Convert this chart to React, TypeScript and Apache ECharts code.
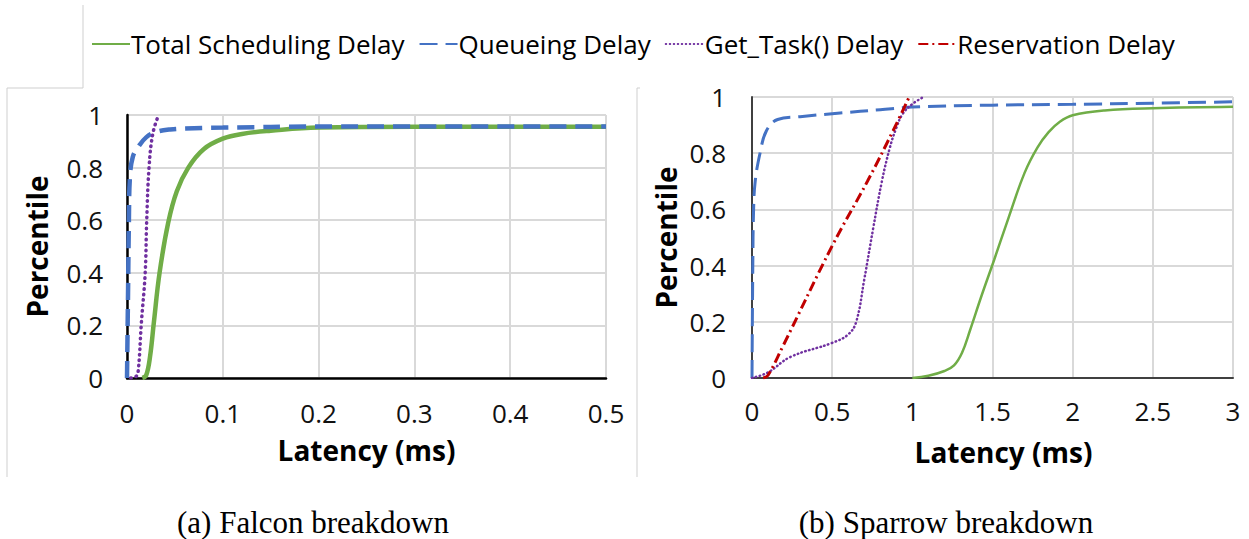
import React, { useEffect, useRef } from "react";
import * as echarts from "echarts";

// ---------- data ----------
const seriesNames = ["Total Scheduling Delay", "Queueing Delay", "Get_Task() Delay", "Reservation Delay"];

const falconXTicks = [0, 0.1, 0.2, 0.3, 0.4, 0.5];
const sparrowXTicks = [0, 0.5, 1, 1.5, 2, 2.5, 3];
const percentileTicks = [0, 0.2, 0.4, 0.6, 0.8, 1];

// Falcon breakdown (latency ms, percentile)
const falconTotal: [number, number][] = [
  [0.016, 0], [0.02, 0.01], [0.024, 0.08], [0.028, 0.21], [0.034, 0.4], [0.043, 0.59],
  [0.052, 0.71], [0.064, 0.8], [0.08, 0.87], [0.1, 0.91], [0.12, 0.928], [0.15, 0.94],
  [0.2, 0.952], [0.3, 0.955], [0.5, 0.955],
];
const falconQueue: [number, number][] = [
  [0, 0], [0.001, 0.3], [0.002, 0.6], [0.003, 0.76], [0.006, 0.84], [0.012, 0.88],
  [0.02, 0.915], [0.03, 0.935], [0.045, 0.945], [0.07, 0.95], [0.1, 0.952], [0.2, 0.956], [0.5, 0.956],
];
const falconGetTask: [number, number][] = [
  [0.004, 0], [0.009, 0.005], [0.0115, 0.02], [0.015, 0.21], [0.019, 0.4], [0.0205, 0.59],
  [0.023, 0.8], [0.027, 0.93], [0.033, 1.0],
];

// Sparrow breakdown
const sparrowTotal: [number, number][] = [
  [1.0, 0], [1.1, 0.008], [1.2, 0.025], [1.26, 0.045], [1.31, 0.09], [1.36, 0.17], [1.43, 0.29],
  [1.51, 0.42], [1.6, 0.57], [1.7, 0.73], [1.78, 0.82], [1.85, 0.875], [1.92, 0.912], [2.0, 0.935],
  [2.2, 0.952], [2.5, 0.96], [3, 0.965],
];
const sparrowQueue: [number, number][] = [
  [0, 0], [0.005, 0.4], [0.01, 0.6], [0.02, 0.7], [0.05, 0.8], [0.09, 0.88], [0.16, 0.92],
  [0.3, 0.93], [0.55, 0.943], [0.8, 0.955], [1.0, 0.964], [1.5, 0.971], [2.0, 0.974],
  [2.5, 0.978], [3, 0.983],
];
const sparrowGetTask: [number, number][] = [
  [0, 0], [0.1, 0.02], [0.24, 0.075], [0.5, 0.125], [0.6, 0.155], [0.65, 0.2], [0.7, 0.35],
  [0.755, 0.53], [0.81, 0.7], [0.86, 0.82], [0.9, 0.89], [0.94, 0.94], [1.0, 0.975], [1.07, 1.0],
];
const sparrowReservation: [number, number][] = [
  [0.07, 0], [0.1, 0.01], [0.19, 0.11], [0.5, 0.47], [0.72, 0.7], [0.88, 0.88], [0.98, 1.0],
];

const captions = ["(a) Falcon breakdown", "(b) Sparrow breakdown"];
const axisNames = { x: "Latency (ms)", y: "Percentile" };

// ---------- styles ----------
const GREEN = "#70ad47";
const BLUE = "#4472c4";
const PURPLE = "#7030a0";
const RED = "#c00000";
const SANS = "'Open Sans', 'Noto Sans', sans-serif";
const SERIF = "'Liberation Serif', 'DejaVu Serif', serif";

export default function App() {
  const ref = useRef<HTMLDivElement>(null);

  useEffect(() => {
    document.body.style.margin = "0";
    if (!ref.current) return;
    const chart = echarts.init(ref.current, null, { renderer: "svg" });

    const xAxisBase = (gridIndex: number, ticks: number[], axisColor: string, axisWidth: number, labelMargin: number, nameGap: number, namePad: number[]) => ({
      type: "value",
      gridIndex,
      min: ticks[0],
      max: ticks[ticks.length - 1],
      interval: ticks[1] - ticks[0],
      name: axisNames.x,
      nameLocation: "middle",
      nameGap,
      nameTextStyle: { fontFamily: SANS, fontSize: 28, fontWeight: "bold", color: "#000", padding: namePad },
      axisLine: { show: true, onZero: false, lineStyle: { color: axisColor, width: axisWidth } },
      axisTick: { show: false },
      axisLabel: { fontFamily: SANS, fontSize: 26, color: "#111", margin: labelMargin },
      splitLine: { show: true, lineStyle: { color: "#d9d9d9", width: 2 } },
    });
    const yAxisBase = (gridIndex: number, axisColor: string, axisWidth: number, labelMargin: number, nameGap: number) => ({
      type: "value",
      gridIndex,
      min: percentileTicks[0],
      max: percentileTicks[percentileTicks.length - 1],
      interval: percentileTicks[1] - percentileTicks[0],
      name: axisNames.y,
      nameLocation: "middle",
      nameGap,
      nameTextStyle: { fontFamily: SANS, fontSize: 28, fontWeight: "bold", color: "#000" },
      axisLine: { show: true, onZero: false, lineStyle: { color: axisColor, width: axisWidth } },
      axisTick: { show: false },
      axisLabel: { fontFamily: SANS, fontSize: 26, color: "#111", margin: labelMargin },
      splitLine: { show: true, lineStyle: { color: "#d9d9d9", width: 2 } },
    });

    const line = (name: string, data: [number, number][], idx: number, color: string, width: number, type: any, cap: string = "butt") => ({
      name,
      type: "line",
      xAxisIndex: idx,
      yAxisIndex: idx,
      data,
      symbol: "none",
      smooth: 0.4,
      clip: true,
      lineStyle: { color, width, type, cap },
      itemStyle: { color },
      z: 3,
    });

    const greyLine = (x1: number, y1: number, x2: number, y2: number) => ({
      type: "line",
      shape: { x1, y1, x2, y2 },
      style: { stroke: "#cfcfcf", lineWidth: 1 },
      silent: true,
    });

    chart.setOption({
      animation: false,
      backgroundColor: "#fff",
      legend: {
        data: seriesNames,
        left: 86,
        top: 26,
        itemWidth: 38,
        itemHeight: 14,
        itemGap: 14,
        itemStyle: { opacity: 0 },
        textStyle: { fontFamily: SANS, fontSize: 26, color: "#000", padding: [0, 0, 0, -4] },
      },
      grid: [
        { left: 127, top: 115, width: 479, height: 263 },
        { left: 752, top: 97, width: 481, height: 281 },
      ],
      xAxis: [
        xAxisBase(0, falconXTicks, "#000", 2.5, 22, 58, [0, 0, 0, 0]),
        xAxisBase(1, sparrowXTicks, "#404040", 2, 20, 60, [0, 0, 0, 22]),
      ],
      yAxis: [
        yAxisBase(0, "#000", 2.5, 24, 76),
        yAxisBase(1, "#404040", 2, 26, 72),
      ],
      series: [
        line(seriesNames[0], sparrowTotal, 1, GREEN, 2.5, "solid"),
        line(seriesNames[1], sparrowQueue, 1, BLUE, 3, [18, 8]),
        line(seriesNames[2], sparrowGetTask, 1, PURPLE, 2.5, [0.5, 3.5], "round"),
        line(seriesNames[3], sparrowReservation, 1, RED, 3, [10, 4, 2, 4]),
        line(seriesNames[0], falconTotal, 0, GREEN, 4.5, "solid"),
        line(seriesNames[1], falconQueue, 0, BLUE, 4.5, [17, 9]),
        line(seriesNames[2], falconGetTask, 0, PURPLE, 3.5, [0.5, 5], "round"),
      ],
      graphic: [
        greyLine(83, 5, 83, 88),
        greyLine(7, 88, 83, 88),
        greyLine(7, 88, 7, 477),
        greyLine(637, 88, 637, 477),
        greyLine(637, 88, 640, 88),
        {
          type: "text",
          x: 313,
          y: 522,
          style: { text: captions[0], font: `31px ${SERIF}`, fill: "#000", align: "center", verticalAlign: "middle" },
        },
        {
          type: "text",
          x: 946,
          y: 522,
          style: { text: captions[1], font: `31px ${SERIF}`, fill: "#000", align: "center", verticalAlign: "middle" },
        },
      ],
    });

    return () => chart.dispose();
  }, []);

  return <div ref={ref} style={{ width: 1249, height: 539 }} />;
}
